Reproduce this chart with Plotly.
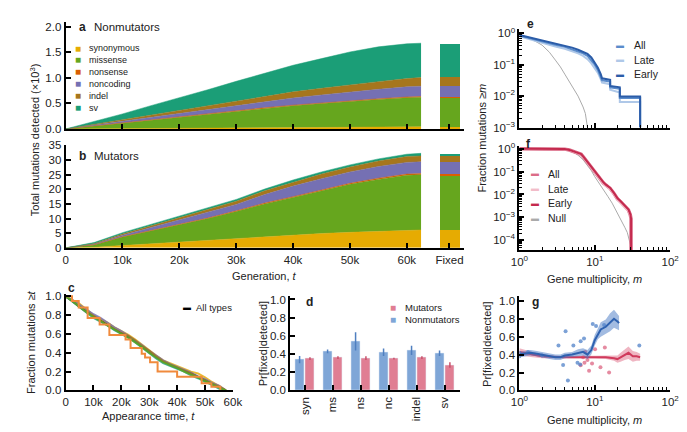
import plotly.graph_objects as go

W, H = 687, 432

# ---------------- panel a / b: mutations detected over time ----------------
gen = [0, 5000, 10000, 15000, 20000, 25000, 30000, 35000, 40000, 45000, 50000, 55000, 60000, 62500]

nm_syn = [0, 0.003, 0.006, 0.009, 0.012, 0.015, 0.018, 0.021, 0.025, 0.029, 0.033, 0.037, 0.040, 0.041]
nm_mis = [0, 0.055, 0.11, 0.165, 0.22, 0.275, 0.335, 0.385, 0.43, 0.47, 0.51, 0.54, 0.57, 0.58]
nm_non = [0, 0.002, 0.003, 0.005, 0.006, 0.007, 0.008, 0.009, 0.010, 0.011, 0.012, 0.013, 0.014, 0.015]
nm_nc = [0, 0.017, 0.035, 0.052, 0.07, 0.085, 0.10, 0.12, 0.14, 0.155, 0.17, 0.185, 0.20, 0.20]
nm_indel = [0, 0.015, 0.03, 0.045, 0.06, 0.075, 0.09, 0.105, 0.12, 0.13, 0.14, 0.15, 0.16, 0.17]
nm_sv = [0, 0.05, 0.11, 0.18, 0.24, 0.31, 0.38, 0.45, 0.52, 0.58, 0.64, 0.68, 0.68, 0.67]
nm_fixed = [0.04, 0.58, 0.012, 0.21, 0.18, 0.64]

mu_syn = [0, 0.2, 0.8, 1.4, 2.0, 2.6, 3.2, 3.9, 4.5, 4.9, 5.3, 5.7, 6.05, 6.1]
mu_mis = [0, 0.8, 2.9, 4.4, 5.9, 7.4, 9.2, 11.1, 12.7, 14.6, 16.4, 17.7, 18.75, 18.9]
mu_non = [0, 0.05, 0.1, 0.15, 0.2, 0.2, 0.25, 0.3, 0.3, 0.35, 0.35, 0.4, 0.4, 0.4]
mu_nc = [0, 0.2, 0.5, 1.0, 1.4, 1.8, 2.2, 2.9, 3.6, 3.8, 3.9, 4.0, 4.0, 4.0]
mu_indel = [0, 0.2, 0.4, 0.6, 0.8, 1.0, 1.1, 1.3, 1.4, 1.6, 1.7, 1.9, 2.0, 2.0]
mu_sv = [0, 0.35, 0.5, 0.45, 0.7, 0.7, 0.6, 0.6, 0.7, 0.7, 0.7, 0.7, 0.8, 0.9]
mu_fixed = [6.1, 18.9, 0.4, 4.0, 2.0, 0.9]

type_names = ['synonymous', 'missense', 'nonsense', 'noncoding', 'indel', 'sv']
type_colors = ['#E6AB02', '#66A61E', '#D95F02', '#7570B3', '#A6761D', '#1B9E77']

fixed_x = 67500
gen_ticks = [0, 10000, 20000, 30000, 40000, 50000, 60000, fixed_x]
gen_labels = ['0', '10k', '20k', '30k', '40k', '50k', '60k', 'Fixed']
a_ticks = [0, 0.5, 1.0, 1.5, 2.0]
a_labels = ['0.0', '0.5', '1.0', '1.5', '2.0']

# ---------------- panel c: appearance time survival ----------------
c_t = [0, 2500, 5000, 7500, 10000, 12500, 15000, 17500, 20000, 22500, 25000, 27500,
       30000, 32500, 35000, 37500, 40000, 42500, 45000, 47500, 50000, 52500, 55000, 57500]
c_all = [1.0, 0.95, 0.89, 0.84, 0.79, 0.745, 0.70, 0.655, 0.61, 0.57, 0.52, 0.465,
         0.41, 0.355, 0.31, 0.275, 0.245, 0.21, 0.18, 0.145, 0.11, 0.075, 0.04, 0.0]
c_syn = [1.0, 0.96, 0.92, 0.86, 0.80, 0.76, 0.72, 0.67, 0.63, 0.59, 0.54, 0.48,
         0.43, 0.37, 0.32, 0.29, 0.26, 0.23, 0.20, 0.18, 0.14, 0.09, 0.05, 0.0]
c_mis = [1.0, 0.95, 0.89, 0.83, 0.78, 0.74, 0.69, 0.65, 0.60, 0.56, 0.51, 0.46,
         0.40, 0.35, 0.30, 0.27, 0.24, 0.20, 0.17, 0.14, 0.10, 0.07, 0.03, 0.0]
c_nc = [1.0, 0.96, 0.91, 0.86, 0.81, 0.77, 0.72, 0.67, 0.63, 0.58, 0.53, 0.48,
        0.42, 0.37, 0.32, 0.28, 0.25, 0.22, 0.19, 0.15, 0.12, 0.08, 0.05, 0.0]
c_indel = [1.0, 0.94, 0.88, 0.83, 0.79, 0.74, 0.69, 0.65, 0.61, 0.58, 0.53, 0.47,
           0.42, 0.36, 0.31, 0.27, 0.24, 0.21, 0.18, 0.14, 0.11, 0.07, 0.04, 0.0]
c_sv = [1.0, 0.94, 0.88, 0.82, 0.77, 0.73, 0.69, 0.64, 0.60, 0.56, 0.51, 0.45,
        0.39, 0.34, 0.29, 0.26, 0.23, 0.20, 0.16, 0.13, 0.09, 0.06, 0.02, 0.0]
c_ns_t = [0, 2300, 4700, 7900, 12200, 15700, 21500, 23300, 27300, 28500, 30300,
          33000, 40000, 48800, 52300, 55500]
c_ns = [1.0, 0.95, 0.88, 0.77, 0.70, 0.59, 0.54, 0.45, 0.39, 0.35, 0.30,
        0.20, 0.145, 0.076, 0.04, 0.0]
c_ticks = [0, 10000, 20000, 30000, 40000, 50000, 60000]
c_labels = ['0', '10k', '20k', '30k', '40k', '50k', '60k']

# ---------------- panel d: fixation probability by type ----------------
d_cats = ['syn', 'ms', 'ns', 'nc', 'indel', 'sv']
d_nonmut = [0.34, 0.43, 0.54, 0.42, 0.44, 0.41]
d_nonmut_err = [0.04, 0.02, 0.10, 0.04, 0.05, 0.03]
d_mut = [0.35, 0.36, 0.355, 0.35, 0.36, 0.28]
d_mut_err = [0.015, 0.015, 0.02, 0.01, 0.015, 0.03]

# ---------------- panel e: nonmutator gene multiplicity ----------------
e_m = [1, 1.5, 2, 3, 4, 5, 6, 7, 8, 9, 10, 11, 12, 12.5, 16, 16, 21.5, 21.5, 40, 40]
e_all = [0.85, 0.65, 0.55, 0.43, 0.37, 0.31, 0.27, 0.23, 0.19, 0.14, 0.10, 0.068,
         0.042, 0.032, 0.029, 0.019, 0.017, 0.0087, 0.0087, 0.001]
e_late = [0.80, 0.60, 0.50, 0.38, 0.32, 0.27, 0.23, 0.19, 0.15, 0.11, 0.08, 0.055,
          0.035, 0.027, 0.024, 0.016, 0.013, 0.0065, 0.0065, 0.001]
e_early = [0.88, 0.70, 0.60, 0.48, 0.41, 0.35, 0.30, 0.26, 0.22, 0.17, 0.12, 0.08,
           0.05, 0.037, 0.033, 0.021, 0.019, 0.0097, 0.0097, 0.001]
e_null_m = [1, 1.5, 2, 2.5, 3, 3.5, 4, 5, 6, 7, 7.5, 8]
e_null = [0.83, 0.62, 0.42, 0.25, 0.14, 0.085, 0.05, 0.02, 0.01, 0.0045, 0.0028, 0.001]

# ---------------- panel f: mutator gene multiplicity ----------------
f_m = [1, 2, 3, 4, 4.6, 5, 6, 6.6, 7, 8, 9, 10, 10.8, 12, 13, 14, 16, 18, 20, 22,
       24, 26, 28, 29.6, 30.3, 30.3]
f_all = [1.0, 0.995, 0.99, 0.96, 0.88, 0.80, 0.64, 0.57, 0.45, 0.25, 0.16, 0.10, 0.069,
         0.045, 0.032, 0.026, 0.0185, 0.011, 0.0065, 0.0048, 0.0036, 0.0028, 0.0021,
         0.0013, 0.00085, 0.00003]
f_late = [1.0, 0.995, 0.99, 0.955, 0.87, 0.78, 0.62, 0.55, 0.43, 0.24, 0.15, 0.095, 0.065,
          0.043, 0.030, 0.024, 0.017, 0.010, 0.006, 0.0044, 0.0033, 0.0026, 0.0019,
          0.0012, 0.0008, 0.00003]
f_early = [1.0, 0.995, 0.99, 0.965, 0.89, 0.81, 0.66, 0.58, 0.46, 0.26, 0.165, 0.105, 0.072,
           0.047, 0.034, 0.027, 0.0195, 0.0115, 0.0068, 0.0051, 0.0038, 0.0029, 0.0022,
           0.0014, 0.0009, 0.00003]
f_null_m = [1, 2, 3, 4, 5, 6, 7, 8, 9, 10, 11, 13, 15, 17, 20, 23, 25, 27, 29, 30.3]
f_null = [1.0, 0.995, 0.985, 0.95, 0.78, 0.52, 0.33, 0.19, 0.11, 0.06, 0.038, 0.018,
          0.008, 0.0042, 0.0016, 0.00065, 0.00037, 0.00022, 0.0001, 0.00005]

# ---------------- panel g: fixation vs multiplicity ----------------
g_b_m = [1, 1.2, 1.4, 1.7, 2, 2.5, 3, 3.5, 4, 5, 6, 7, 8, 9, 10, 11, 12, 14, 16, 18, 20, 21]
g_b_p = [0.40, 0.41, 0.42, 0.41, 0.40, 0.38, 0.37, 0.37, 0.39, 0.40, 0.42, 0.43, 0.40,
         0.45, 0.56, 0.63, 0.68, 0.71, 0.76, 0.80, 0.77, 0.75]
g_b_err = [0.03, 0.03, 0.03, 0.03, 0.03, 0.03, 0.03, 0.03, 0.03, 0.03, 0.04, 0.04, 0.05,
           0.05, 0.06, 0.06, 0.08, 0.08, 0.10, 0.10, 0.09, 0.08]
g_r_m = [1, 1.2, 1.5, 2, 3, 4, 5, 7, 10, 14, 18, 20, 22, 25, 28, 32, 36, 40]
g_r_p = [0.43, 0.42, 0.40, 0.38, 0.37, 0.37, 0.37, 0.37, 0.37, 0.37, 0.36, 0.35, 0.37,
         0.40, 0.42, 0.38, 0.38, 0.37]
g_r_err = [0.04, 0.035, 0.03, 0.02, 0.015, 0.015, 0.015, 0.015, 0.015, 0.02, 0.03, 0.04,
           0.05, 0.06, 0.07, 0.06, 0.05, 0.04]
g_b_dot_m = [1, 1, 1.1, 1.3, 2, 3.3, 3.8, 4.1, 4.4, 5.2, 5.9, 6.4, 6.5, 7.2, 9.4, 10.4, 13.3, 39]
g_b_dot_p = [0.38, 0.42, 0.40, 0.43, 0.39, 0.50, 0.285, 0.66, 0.11, 0.50, 0.31, 0.29, 0.55,
             0.58, 0.74, 0.72, 0.73, 0.50]
g_r_dot_m = [6.5, 7.0, 7.3, 7.5, 8.0, 8.4, 9.2, 10.1, 11.9, 13.6, 15.5]
g_r_dot_p = [0.28, 0.37, 0.31, 0.43, 0.34, 0.22, 0.30, 0.46, 0.26, 0.48, 0.20]

blue_mid, blue_light, blue_dark = '#5B8CCB', '#AFC8E8', '#2B5CA8'
red_mid, red_light, red_dark = '#DB6D88', '#F2BCC9', '#C42A4E'

FONT = 'Liberation Sans, Arial, sans-serif'


def dom_x(p0, p1):
    return [p0 / W, p1 / W]


def dom_y(top, bottom):
    return [1 - bottom / H, 1 - top / H]


def axis(domain, anchor, **kw):
    d = dict(domain=domain, anchor=anchor, showline=True, linecolor='black', linewidth=2,
             ticks='inside', ticklen=5, tickwidth=1.5, tickcolor='black', showgrid=False,
             zeroline=False, ticklabeloverflow='allow',
             tickfont=dict(size=11.5, color='#222222', family=FONT))
    d.update(kw)
    return d


log_minor = dict(ticks='inside', ticklen=3, tickwidth=1, tickcolor='black',
                 tickvals=[k * 10 ** p for p in (0, 1) for k in range(2, 10)])
log_x = dict(type='log', range=[0, 2], tickvals=[1, 10, 100],
             ticktext=['10<sup>0</sup>', '10<sup>1</sup>', '10<sup>2</sup>'], minor=log_minor)

fig = go.Figure()


def add_stack(series, fixed, xa, ya, group):
    base = 0
    for name, ys, fx, col in zip(type_names, series, fixed, type_colors):
        fig.add_trace(go.Scatter(x=gen, y=ys, stackgroup=group, mode='lines', name=name,
                                 line=dict(width=0.5, color=col), fillcolor=col,
                                 xaxis=xa, yaxis=ya))
        fig.add_trace(go.Bar(x=[fixed_x], y=[fx], base=[base], width=3400, name=name,
                             marker=dict(color=col, line=dict(width=0)), xaxis=xa, yaxis=ya))
        base += fx


add_stack([nm_syn, nm_mis, nm_non, nm_nc, nm_indel, nm_sv], nm_fixed, 'x', 'y', 'nm')
add_stack([mu_syn, mu_mis, mu_non, mu_nc, mu_indel, mu_sv], mu_fixed, 'x2', 'y2', 'mu')

# panel c
fig.add_trace(go.Scatter(x=c_t, y=c_all, mode='lines', line=dict(color='black', width=2),
                         xaxis='x3', yaxis='y3'))
for ys, col in zip([c_syn, c_nc, c_indel, c_sv, c_mis],
                   [type_colors[0], type_colors[3], type_colors[4], type_colors[5], type_colors[1]]):
    fig.add_trace(go.Scatter(x=c_t, y=ys, mode='lines', line=dict(color=col, width=2),
                             opacity=0.8, xaxis='x3', yaxis='y3'))
fig.add_trace(go.Scatter(x=c_ns_t, y=c_ns, mode='lines',
                         line=dict(color='#F08A3C', width=2, shape='hv'), xaxis='x3', yaxis='y3'))

# panel d
fig.add_trace(go.Bar(x=d_cats, y=d_nonmut, width=0.33, offset=-0.35, marker_color='#7FA6D7',
                     error_y=dict(type='data', array=d_nonmut_err, color='#4F7FC0', thickness=1.5, width=0),
                     xaxis='x4', yaxis='y4'))
fig.add_trace(go.Bar(x=d_cats, y=d_mut, width=0.33, offset=0.02, marker_color='#E07E93',
                     error_y=dict(type='data', array=d_mut_err, color='#C8506A', thickness=1.5, width=0),
                     xaxis='x4', yaxis='y4'))

# panel e
fig.add_trace(go.Scatter(x=e_null_m, y=e_null, mode='lines', line=dict(color='#AAAAAA', width=1),
                         xaxis='x5', yaxis='y5'))
for ys, col in [(e_late, blue_light), (e_all, blue_mid), (e_early, blue_dark)]:
    fig.add_trace(go.Scatter(x=e_m, y=ys, mode='lines', line=dict(color=col, width=2),
                             xaxis='x5', yaxis='y5'))

# panel f
fig.add_trace(go.Scatter(x=f_null_m, y=f_null, mode='lines', line=dict(color='#AAAAAA', width=1),
                         xaxis='x6', yaxis='y6'))
for ys, col, wd in [(f_all, red_mid, 3.5), (f_late, red_light, 2), (f_early, red_dark, 2)]:
    fig.add_trace(go.Scatter(x=f_m, y=ys, mode='lines', line=dict(color=col, width=wd),
                             xaxis='x6', yaxis='y6'))

# panel g
for m, p, e, band, line, dot_m, dot_p, dot_col in [
        (g_r_m, g_r_p, g_r_err, 'rgba(220,90,120,0.45)', '#D03A5C', g_r_dot_m, g_r_dot_p, 'rgba(220,100,130,0.75)'),
        (g_b_m, g_b_p, g_b_err, 'rgba(70,120,195,0.5)', '#2F62B0', g_b_dot_m, g_b_dot_p, 'rgba(80,130,200,0.75)')]:
    hi = [a + b for a, b in zip(p, e)]
    lo = [a - b for a, b in zip(p, e)]
    fig.add_trace(go.Scatter(x=m + m[::-1], y=hi + lo[::-1], fill='toself', fillcolor=band,
                             mode='lines', line=dict(width=0), xaxis='x7', yaxis='y7'))
    fig.add_trace(go.Scatter(x=dot_m, y=dot_p, mode='markers', marker=dict(color=dot_col, size=4),
                             xaxis='x7', yaxis='y7'))
    fig.add_trace(go.Scatter(x=m, y=p, mode='lines', line=dict(color=line, width=2),
                             xaxis='x7', yaxis='y7'))

ab_x = dom_x(50, 460)
fig.update_layout(
    xaxis=axis(ab_x, 'y', range=[0, 70100], tickvals=gen_ticks, showticklabels=False),
    yaxis=axis(dom_y(9, 119), 'x', range=[0, 2.095], tickmode='array',
               tickvals=a_ticks, ticktext=a_labels),
    xaxis2=axis(ab_x, 'y2', range=[0, 70100], tickvals=gen_ticks, ticktext=gen_labels),
    yaxis2=axis(dom_y(135, 241), 'x2', range=[0, 35.3], dtick=5),
    xaxis3=axis(dom_x(50, 222), 'y3', range=[0, 60000], tickvals=c_ticks, ticktext=c_labels),
    yaxis3=axis(dom_y(288.5, 387.3), 'x3', range=[0, 1.023], dtick=0.2, tickformat='.1f'),
    xaxis4=axis(dom_x(281, 456), 'y4', type='category', range=[-0.52, 5.56], tickangle=-90),
    yaxis4=axis(dom_y(290.7, 387.3), 'x4', range=[0, 1.035], dtick=0.2, tickformat='.1f'),
    xaxis5=axis(dom_x(516.7, 671.7), 'y5', showticklabels=False, **log_x),
    yaxis5=axis(dom_y(16, 117.5), 'x5', type='log', range=[-3.0, 0.15],
                tickvals=[0.001, 0.01, 0.1, 1],
                ticktext=['10<sup>−3</sup>', '10<sup>−2</sup>', '10<sup>−1</sup>', '10<sup>0</sup>'],
                minor=dict(ticks='inside', ticklen=3, tickwidth=1, tickcolor='black',
                           tickvals=[k * 10 ** p for p in (-3, -2, -1) for k in range(2, 10)])),
    xaxis6=axis(dom_x(516.7, 671.7), 'y6', **log_x),
    yaxis6=axis(dom_y(136.7, 243.3), 'x6', type='log', range=[-4.43, 0.11],
                tickvals=[0.0001, 0.001, 0.01, 0.1, 1],
                ticktext=['10<sup>−4</sup>', '10<sup>−3</sup>', '10<sup>−2</sup>', '10<sup>−1</sup>', '10<sup>0</sup>'],
                minor=dict(ticks='inside', ticklen=3, tickwidth=1, tickcolor='black',
                           tickvals=[k * 10 ** p for p in (-5, -4, -3, -2, -1) for k in range(2, 10)])),
    xaxis7=axis(dom_x(516.7, 671.7), 'y7', **log_x),
    yaxis7=axis(dom_y(290.7, 387.3), 'x7', range=[0, 1.05], dtick=0.2, tickformat='.1f'),
)

anns = []


def text(x, y, s, size=11, angle=0, xanchor='center', color='#222222'):
    anns.append(dict(x=x / W, y=1 - y / H, xref='paper', yref='paper', text=s,
                     showarrow=False, textangle=angle, xanchor=xanchor, yanchor='middle',
                     font=dict(size=size, color=color, family=FONT)))


def legend(items, x, y0, dy, glyph, size=10, gsize=10, gap=12):
    for i, (label, col) in enumerate(items):
        y = y0 + i * dy
        text(x, y, glyph, size=gsize, xanchor='left', color=col)
        text(x + gap, y, label, size=size, xanchor='left')


# panel letters and titles
text(62, 14, '<b>a</b>', 12, xanchor='left')
text(77, 14, 'Nonmutators', 11.5, xanchor='left')
text(62, 147, '<b>b</b>', 12, xanchor='left')
text(77, 147, 'Mutators', 11.5, xanchor='left')
text(50, 282, '<b>c</b>', 12, xanchor='left')
text(295, 297, '<b>d</b>', 12, xanchor='left')
text(522, 11, '<b>e</b>', 12, xanchor='left')
text(521, 134, '<b>f</b>', 12, xanchor='left')
text(528, 297, '<b>g</b>', 12, xanchor='left')

text(18, 130, 'Total mutations detected (×10<sup>3</sup>)', 11, angle=-90)
text(255, 270, 'Generation, <i>t</i>', 11)
text(15, 338, 'Fraction mutations ≥<i>t</i>', 11, angle=-90)
text(135, 414, 'Appearance time, <i>t</i>', 11)
text(253, 340, 'Pr[fixed|detected]', 11, angle=-90)
text(478, 128, 'Fraction mutations ≥<i>m</i>', 11, angle=-90)
text(594, 273, 'Gene multiplicity, <i>m</i>', 11)
text(484, 340, 'Pr[fixed|detected]', 11, angle=-90)
text(594, 418, 'Gene multiplicity, <i>m</i>', 11)

legend(list(zip(type_names, type_colors)), 58, 36, 12.2, '■', size=9, gsize=10, gap=14)
legend([('Mutators', '#E07E93'), ('Nonmutators', '#7FA6D7')], 382, 302, 12.5, '■', size=9.5, gsize=10, gap=15)
legend([('All types', 'black')], 169, 302, 14, '▬', size=9.5, gsize=8, gap=13)
legend([('All', blue_mid), ('Late', blue_light), ('Early', blue_dark)], 614, 33, 15, '▬',
       size=10.5, gsize=8, gap=18)
legend([('All', red_mid), ('Late', red_light), ('Early', red_dark), ('Null', '#AAAAAA')], 527, 165, 15.2, '▬',
       size=10.5, gsize=8, gap=17)

fig.update_layout(
    annotations=anns,
    width=W, height=H, margin=dict(l=0, r=0, t=0, b=0),
    paper_bgcolor='white', plot_bgcolor='rgba(0,0,0,0)',
    showlegend=False, barmode='overlay', bargap=0,
    font=dict(family=FONT, size=11, color='#222222'),
)

fig.write_html('out.html')
